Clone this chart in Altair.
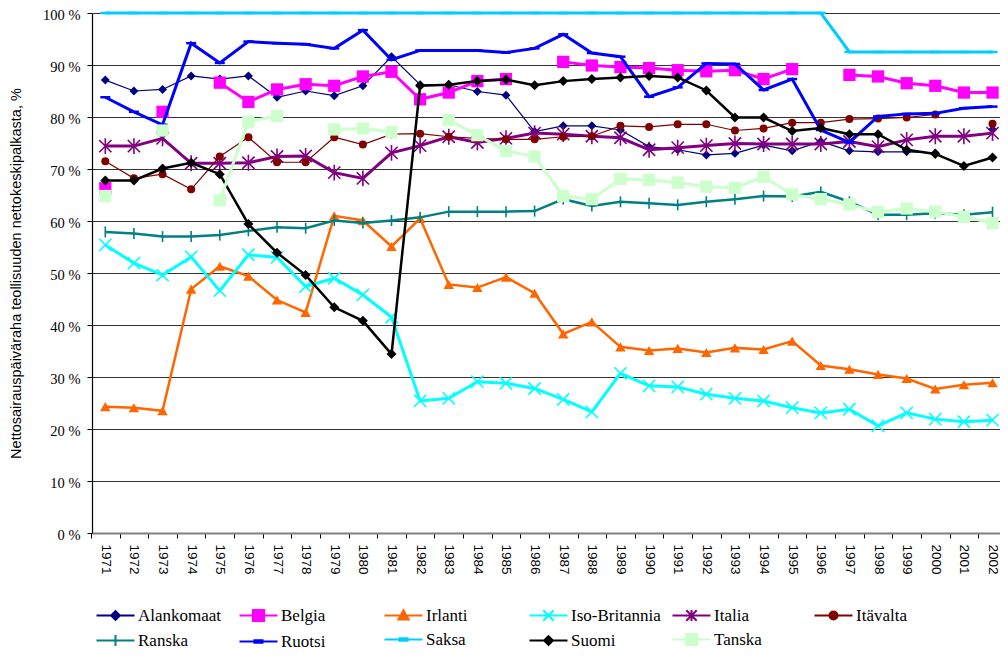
import altair as alt
import pandas as pd

years = list(range(1971, 2003))
countries = ["Alankomaat", "Belgia", "Irlanti", "Iso-Britannia", "Italia", "Itävalta",
             "Ranska", "Ruotsi", "Saksa", "Suomi", "Tanska"]

alankomaat = [87.1, 85.0, 85.3, 87.9, 87.3, 87.9, 83.8, 85.0, 84.1, 86.0,
              91.6, 86.2, 86.2, 84.9, 84.2, 77.2, 78.3, 78.3, 77.5, 74.3,
              73.7, 72.7, 73.0, 74.6, 73.5, 75.3, 73.5, 73.3, 73.3, 73.1,
              None, 77.6]
belgia = [66.3, None, 81.0, None, 86.6, 82.9, 85.3, 86.3, 86.0, 87.8,
          88.7, 83.4, 84.7, 86.9, 87.3, None, 90.6, 89.9, 89.6, 89.4,
          89.0, 88.8, 89.0, 87.3, 89.2, None, 88.1, 87.8, 86.5, 86.0,
          84.7, 84.7]
irlanti = [24.3, 24.1, 23.5, 46.9, 51.3, 49.4, 44.8, 42.4, 61.0, 60.1,
           55.1, 60.5, 47.8, 47.2, 49.2, 46.1, 38.3, 40.6, 35.8, 35.1,
           35.5, 34.7, 35.6, 35.3, 36.9, 32.2, 31.5, 30.5, 29.7, 27.7,
           28.5, 28.9]
iso_britannia = [55.4, 51.9, 49.6, 53.1, 46.6, 53.5, 53.0, 47.4, 49.0, 45.8,
                 41.5, 25.4, 25.9, 29.1, 28.8, 27.8, 25.7, 23.3, 30.7, 28.3,
                 28.1, 26.7, 25.9, 25.4, 24.1, 23.1, 23.8, 20.6, 23.1, 21.9,
                 21.4, 21.7]
italia = [74.4, 74.4, 75.9, 71.1, 71.1, 71.2, 72.4, 72.5, 69.3, 68.2,
          73.1, 74.5, 76.2, 75.1, 75.9, 76.9, 76.7, 76.3, 76.0, 73.7,
          74.1, 74.5, 74.9, 74.8, 74.8, 74.8, 75.3, 74.3, 75.6, 76.3,
          76.3, 76.9]
itavalta = [71.5, 68.2, 69.0, 66.1, 72.4, 76.1, 71.3, 71.3, 76.1, 74.7,
            76.7, 76.8, 76.2, 75.9, 75.7, 75.7, 76.2, 76.3, 78.3, 78.1,
            78.6, 78.6, 77.4, 77.8, 78.9, 78.9, 79.6, 79.7, 79.9, 80.5,
            None, 78.7]
ranska = [57.9, 57.6, 57.0, 57.0, 57.3, 58.1, 58.8, 58.6, 60.1, 59.6,
          60.1, 60.7, 61.8, 61.8, 61.8, 61.9, 64.2, 62.9, 63.7, 63.4,
          63.1, 63.7, 64.2, 64.8, 64.7, 65.6, 63.7, 61.2, 61.2, 61.5,
          61.2, 61.7]
ruotsi = [83.8, 81.0, 78.5, 94.2, 90.4, 94.5, 94.2, 94.0, 93.2, 96.7,
          91.0, 92.8, 92.8, 92.8, 92.4, 93.2, 95.9, 92.3, 91.6, 83.9,
          85.7, 90.3, 90.2, 85.2, 87.3, 77.5, 75.1, 80.1, 80.6, 80.7,
          81.7, 82.0]
saksa = [100.0, 100.0, 100.0, 100.0, 100.0, 100.0, 100.0, 100.0, 100.0, 100.0,
         100.0, 100.0, 100.0, 100.0, 100.0, 100.0, 100.0, 100.0, 100.0, 100.0,
         100.0, 100.0, 100.0, 100.0, 100.0, 100.0, 92.5, 92.5, 92.5, 92.5,
         92.5, 92.5]
suomi = [67.8, 67.8, 70.1, 71.2, 69.0, 59.4, 53.9, 49.6, 43.4, 40.8,
         34.4, 86.0, 86.2, 86.9, 87.2, 86.1, 86.9, 87.3, 87.6, 87.9,
         87.6, 85.1, 79.9, 79.9, 77.3, 77.9, 76.7, 76.7, 73.7, 72.9,
         70.6, 72.2]
tanska = [64.8, None, 77.4, None, 64.0, 79.1, 80.2, None, 77.6, 77.8,
          77.1, None, 79.4, 76.5, 73.5, 72.4, 64.8, 64.2, 68.1, 67.9,
          67.4, 66.6, 66.4, 68.5, 65.1, 64.2, 63.2, 61.7, 62.4, 61.8,
          60.8, 59.6]

series = [alankomaat, belgia, irlanti, iso_britannia, italia, itavalta,
          ranska, ruotsi, saksa, suomi, tanska]

colors = ["#000080", "#FF00FF", "#FF6600", "#00FFFF", "#800080", "#800000",
          "#008080", "#0000FF", "#00CCFF", "#000000", "#CCFFCC"]
line_widths = [1.2, 3, 2.5, 3, 3, 1.2, 2.5, 3, 3, 2.5, 3]

X_PATH = "M-1,-1L1,1M1,-1L-1,1"
AST_PATH = "M-1,-1L1,1M1,-1L-1,1M0,-1.3V1.3"
PLUS_PATH = "M0,-1V1"
DASH_PATH = "M-1,-0.25H1V0.25H-1Z"
# (shape, size, filled, strokeWidth)
markers = [
    ("diamond", 80, True, 0),
    ("square", 150, True, 0),
    ("triangle-up", 110, True, 0),
    (X_PATH, 150, False, 1.6),
    (AST_PATH, 150, False, 1.6),
    ("circle", 64, True, 0),
    (PLUS_PATH, 121, False, 1.6),
    (DASH_PATH, 100, True, 0),
    (DASH_PATH, 100, True, 0),
    ("diamond", 100, True, 0),
    ("square", 150, True, 0),
]

LINE = "M-4.75,0H4.75"
legend_paths = [
    LINE + "M0,-1.1L1.1,0L0,1.1L-1.1,0Z",
    LINE + "M-1.4,-1.4H1.4V1.4H-1.4Z",
    LINE + "M0,-1.3L1.3,1H-1.3Z",
    LINE + "M-1.3,-1.3L1.3,1.3M1.3,-1.3L-1.3,1.3",
    LINE + "M-1.3,-1.3L1.3,1.3M1.3,-1.3L-1.3,1.3M0,-1.4V1.4",
    LINE + "M-1,0A1,1,0,1,0,1,0A1,1,0,1,0,-1,0Z",
    LINE + "M0,-1.4V1.4",
    LINE + "M-1,-0.3H1V0.3H-1Z",
    LINE + "M-1,-0.3H1V0.3H-1Z",
    LINE + "M0,-1.1L1.1,0L0,1.1L-1.1,0Z",
    LINE + "M-1.4,-1.4H1.4V1.4H-1.4Z",
]
# left edge of each legend column, relative to the plot's left edge
legend_cols = [4, 147, 292, 437, 580, 722]
legend_row_pad = [6, 6, 6, 6, 3, 6]

rows = []
for c, vals in zip(countries, series):
    seg = 0
    gap = True
    for yr, v in zip(years, vals):
        if v is None:
            gap = True
            continue
        if gap:
            seg += 1
            gap = False
        rows.append({"country": c, "year": yr, "value": v, "seg": f"{c}-{seg}"})
df = pd.DataFrame(rows)

LEFT = 84
PLOT_W = 992 - LEFT
STEP = 28.62
X0 = 1971 - 13.3 / STEP
x_enc = alt.X(
    "year:Q",
    scale=alt.Scale(domain=[X0, X0 + PLOT_W / STEP], nice=False, zero=False),
    axis=alt.Axis(
        values=years, format="d", labelAngle=90, tickOffset=-STEP / 2, labelOffset=STEP / 2,
        grid=False, title=None, tickSize=5, tickColor="black", domainColor="#808080",
        domainWidth=2, labelFont="Liberation Sans", labelFontSize=13.5, labelColor="black",
        labelPadding=6, labelFlush=False, labelOverlap=False,
    ),
)
y_enc = alt.Y(
    "value:Q",
    scale=alt.Scale(domain=[0, 100], nice=False),
    axis=alt.Axis(
        values=list(range(0, 101, 10)), labelExpr="datum.value + ' %'",
        grid=True, gridColor="#333333", gridWidth=1, tickSize=5, tickColor="black",
        domainColor="black", domainWidth=1.2, labelFont="Liberation Serif", labelFontSize=14.5,
        labelColor="black", labelPadding=7, labelOffset=2,
        title="Nettosairauspäiväraha teollisuuden nettokeskipalkasta, %",
        titleFont="Liberation Sans", titleFontSize=14.5, titleFontWeight="normal",
        titleColor="black", titlePadding=19,
    ),
)

base = alt.Chart(df)
layers = []
for i, c in enumerate(countries):
    sub = base.transform_filter(alt.datum.country == c)
    layers.append(
        sub.mark_line(color=colors[i], strokeWidth=line_widths[i]).encode(
            x=x_enc, y=y_enc, detail="seg:N"
        )
    )
    shape, size, filled, sw = markers[i]
    if filled:
        pm = sub.mark_point(shape=shape, size=size, filled=True, fill=colors[i],
                            opacity=1, strokeWidth=0)
    else:
        pm = sub.mark_point(shape=shape, size=size, filled=False, stroke=colors[i],
                            opacity=1, strokeWidth=sw)
    layers.append(pm.encode(x=x_enc, y=y_enc))

# one legend per column (two rows each), so columns sit at fixed places
for j, colx in enumerate(legend_cols):
    idx = [k for k in (j, j + 6) if k < len(countries)]
    dom = [countries[k] for k in idx]
    leg = alt.Legend(
        title=None, orient="none", legendX=colx - 3, legendY=594, direction="vertical",
        symbolSize=64, symbolStrokeWidth=2, symbolOffset=14, labelOffset=14,
        rowPadding=legend_row_pad[j], labelFont="Liberation Serif", labelFontSize=17,
        labelColor="black", labelLimit=0, padding=0,
    )
    layers.append(
        base.transform_filter(alt.datum.year < 0).mark_point(
            filled=True, opacity=1, strokeWidth=2
        ).encode(
            x=x_enc, y=y_enc,
            fill=alt.Fill("country:N", scale=alt.Scale(domain=dom, range=[colors[k] for k in idx]), legend=leg),
            stroke=alt.Stroke("country:N", scale=alt.Scale(domain=dom, range=[colors[k] for k in idx]), legend=leg),
            shape=alt.Shape("country:N", scale=alt.Scale(domain=dom, range=[legend_paths[k] for k in idx]), legend=leg),
        )
    )

chart = alt.layer(*layers).resolve_scale(
    fill="independent", stroke="independent", shape="independent"
).properties(
    width=PLOT_W, height=520,
    autosize=alt.AutoSizeParams(type="none"),
    padding={"left": LEFT, "top": 5, "right": 0, "bottom": 117},
).configure_view(stroke=None).configure(background="white")

chart.save("out.html", embed_options={"renderer": "svg", "actions": False})
